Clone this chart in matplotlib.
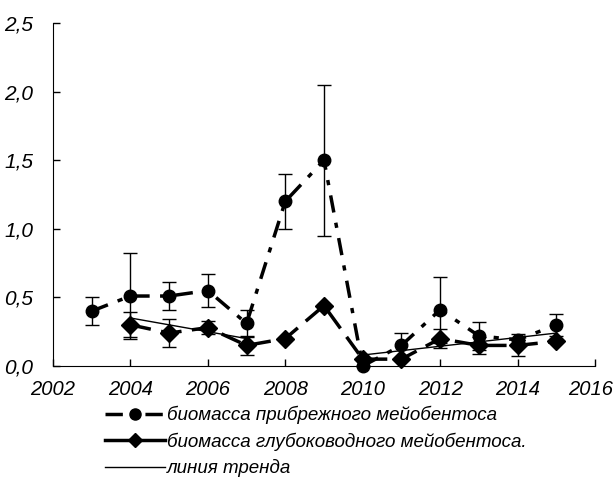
import matplotlib.pyplot as plt
from matplotlib.ticker import FuncFormatter
from matplotlib.transforms import ScaledTranslation

plt.rcParams['font.family'] = ['Liberation Sans', 'DejaVu Sans']
plt.rcParams['font.style'] = 'italic'

# coastal meiobenthos biomass (circles)
years_coast = [2003, 2004, 2005, 2006, 2007, 2008, 2009, 2010, 2011, 2012, 2013, 2014, 2015]
coast = [0.40, 0.51, 0.51, 0.55, 0.31, 1.20, 1.50, 0.00, 0.15, 0.41, 0.22, 0.19, 0.30]
coast_err = [0.10, 0.31, 0.10, 0.12, 0.10, 0.20, 0.55, 0.00, 0.09, 0.24, 0.10, 0.00, 0.08]

# deep-water meiobenthos biomass (diamonds)
years_deep = [2004, 2005, 2006, 2007, 2008, 2009, 2010, 2011, 2012, 2013, 2014, 2015]
deep = [0.30, 0.24, 0.28, 0.15, 0.20, 0.44, 0.05, 0.05, 0.20, 0.15, 0.15, 0.18]
deep_err = [0.09, 0.10, 0.05, 0.07, 0.00, 0.00, 0.00, 0.00, 0.07, 0.06, 0.08, 0.00]

# trend lines
trend1_x = [2004, 2007]
trend1_y = [0.35, 0.20]
trend2_x = [2010, 2015]
trend2_y = [0.08, 0.24]

labels = ['биомасса прибрежного мейобентоса',
          'биомасса глубоководного мейобентоса.',
          'линия тренда']

fig = plt.figure(figsize=(6.15, 4.84), dpi=100)
ax = fig.add_axes([53/615, 1 - 366/484, (595 - 53)/615, (366 - 23)/484])

l1 = ax.errorbar(years_coast, coast, yerr=coast_err, color='black', lw=2.5,
                 ls=(0, (5, 3, 1.5, 3)), marker='o', ms=9, ecolor='black',
                 elinewidth=1, capsize=5, capthick=1, clip_on=False, zorder=3)
l2 = ax.errorbar(years_deep, deep, yerr=deep_err, color='black', lw=2.5,
                 ls=(0, (6, 3)), marker='D', ms=9, ecolor='black',
                 elinewidth=1, capsize=5, capthick=1, clip_on=False, zorder=3)
for c in l1[1] + l2[1]:
    c.set_clip_on(False)
l3, = ax.plot(trend1_x, trend1_y, color='black', lw=1, zorder=4)
ax.plot(trend2_x, trend2_y, color='black', lw=1, zorder=4)

ax.set_xlim(2002, 2016)
ax.set_ylim(0, 2.5)
ax.set_xticks(range(2002, 2017, 2))
ax.set_yticks([0, 0.5, 1.0, 1.5, 2.0, 2.5])
ax.yaxis.set_major_formatter(FuncFormatter(lambda v, p: f'{v:.1f}'.replace('.', ',')))
ax.spines['top'].set_visible(False)
ax.spines['right'].set_visible(False)
ax.tick_params(direction='in', length=5, width=1)
ax.tick_params(axis='x', pad=10, labelsize=14.5)
ax.tick_params(axis='y', pad=14, labelsize=15)

# nudge the last year label so it stays inside the picture
last = ax.get_xticklabels()[-1]
last.set_transform(last.get_transform() + ScaledTranslation(-4/100, 0, fig.dpi_scale_trans))

leg_l1, = ax.plot([], [], color='black', lw=2.5, ls=(0, (5, 2.5, 1.5, 2.5)), marker='o', ms=8)
leg_l2, = ax.plot([], [], color='black', lw=2.5, ls='-', marker='D', ms=7)
fig.legend([leg_l1, leg_l2, l3], labels, loc='upper left',
           bbox_to_anchor=(88/615, 1 - 389/484), frameon=False,
           fontsize=13.5, handlelength=3.2, handletextpad=0.1, labelspacing=0.45)

fig.savefig('out.png', dpi=100)
